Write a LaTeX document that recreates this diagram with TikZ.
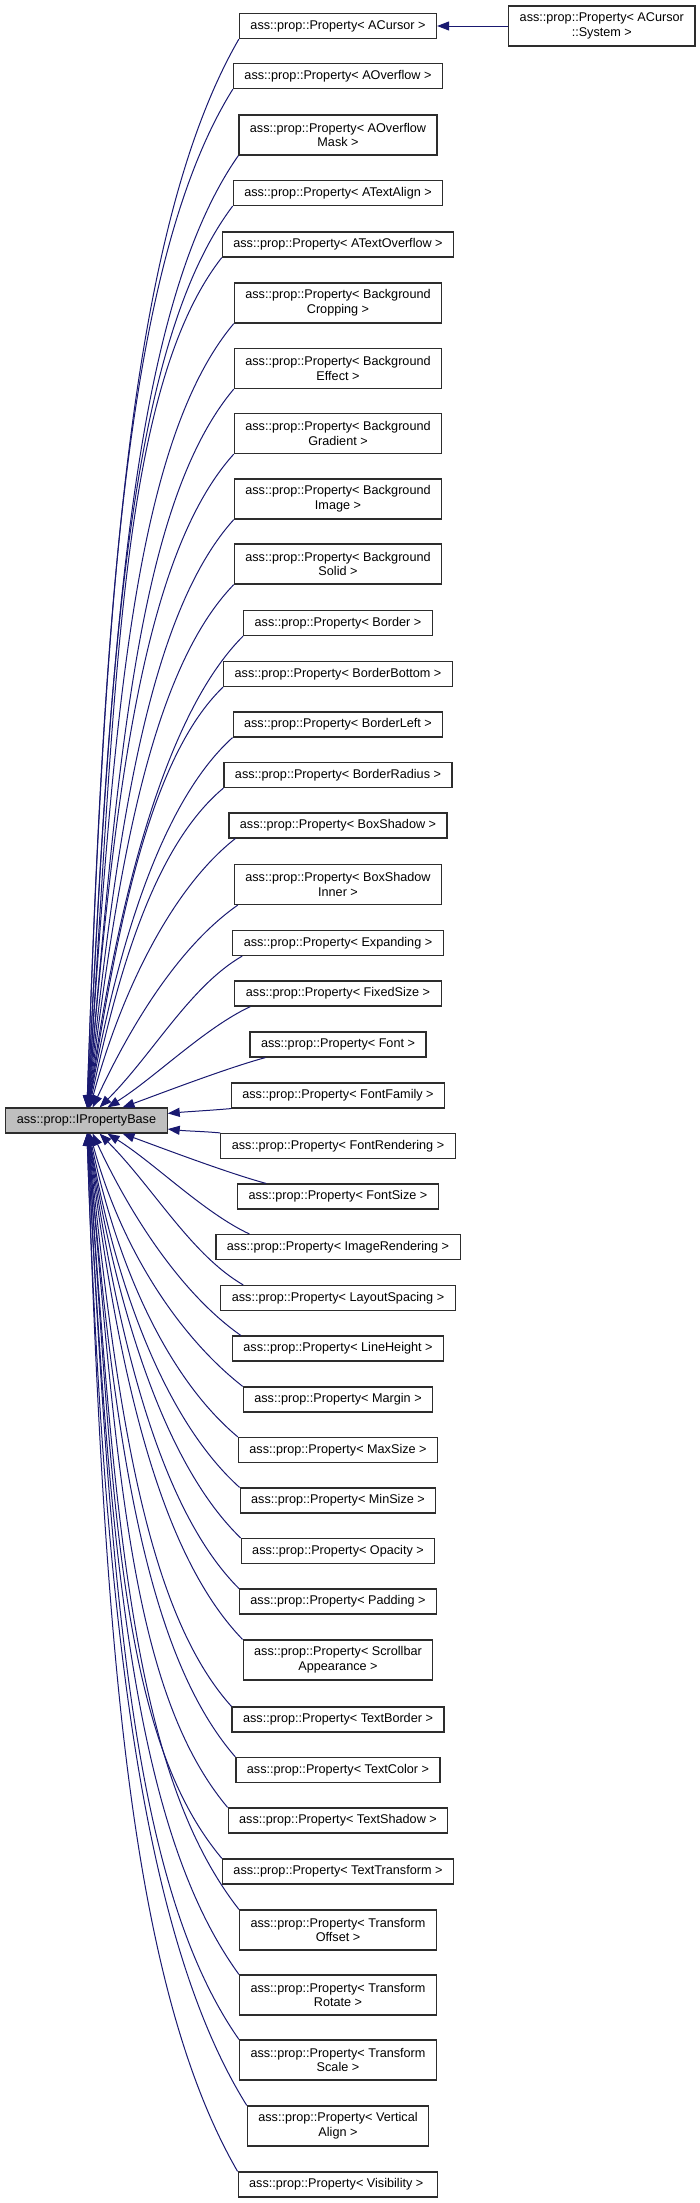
\documentclass[tikz,border=0pt]{standalone}
\usepackage{fontspec}
\setmainfont{Liberation Sans}
\usepackage{tikz}
\usetikzlibrary{arrows.meta, positioning}
\definecolor{edgeBlue}{RGB}{25,25,112}
\definecolor{baseGray}{RGB}{191,191,191}
\definecolor{boxLine}{RGB}{45,45,45}
\tikzset{
    propbox/.style={
        rectangle,
        draw=boxLine,
        line width=1.2pt,
        fill=white,
        align=center,
        inner xsep=11pt,
        inner ysep=2pt,
        minimum height=25pt,
        font=\fontsize{12.65}{14.7}\selectfont
    },
    basebox/.style={propbox, fill=baseGray},
    inherit/.style={-{Triangle[length=12pt, width=9pt]}, line width=1pt, draw=edgeBlue}
}

\begin{document}
\begin{tikzpicture}[x=1pt,y=1pt]
    \useasboundingbox (0,0) rectangle (700,-2203);

    \node[basebox] (base) at (86.5,-1120.5) {ass::prop::IPropertyBase};

    % derived property classes, one column
    \foreach \nm/\y/\h/\txt in {
        cursor/26/25pt/{ass::prop::Property< ACursor >},
        overflow/76/25pt/{ass::prop::Property< AOverflow >},
        overflowmask/135/40pt/{ass::prop::Property< AOverflow\\Mask >},
        textalign/193/25pt/{ass::prop::Property< ATextAlign >},
        textoverflow/244.5/25pt/{ass::prop::Property< ATextOverflow >},
        bgcrop/303/40pt/{ass::prop::Property< Background\\Cropping >},
        bgeffect/368.5/40pt/{ass::prop::Property< Background\\Effect >},
        bggrad/433.5/40pt/{ass::prop::Property< Background\\Gradient >},
        bgimage/499/40pt/{ass::prop::Property< Background\\Image >},
        bgsolid/564/40pt/{ass::prop::Property< Background\\Solid >},
        border/623/25pt/{ass::prop::Property< Border >},
        borderbottom/674/25pt/{ass::prop::Property< BorderBottom >},
        borderleft/724.5/25pt/{ass::prop::Property< BorderLeft >},
        borderradius/775/25pt/{ass::prop::Property< BorderRadius >},
        boxshadow/825.5/25pt/{ass::prop::Property< BoxShadow >},
        boxshadowin/884.5/40pt/{ass::prop::Property< BoxShadow\\Inner >},
        expanding/943/25pt/{ass::prop::Property< Expanding >},
        fixedsize/993.5/25pt/{ass::prop::Property< FixedSize >},
        font/1044.5/25pt/{ass::prop::Property< Font >},
        fontfamily/1095.5/25pt/{ass::prop::Property< FontFamily >},
        fontrender/1146/25pt/{ass::prop::Property< FontRendering >},
        fontsize/1196.5/25pt/{ass::prop::Property< FontSize >},
        imagerender/1247/25pt/{ass::prop::Property< ImageRendering >},
        layoutspacing/1298/25pt/{ass::prop::Property< LayoutSpacing >},
        lineheight/1348.5/25pt/{ass::prop::Property< LineHeight >},
        margin/1399.5/25pt/{ass::prop::Property< Margin >},
        maxsize/1450/25pt/{ass::prop::Property< MaxSize >},
        minsize/1500.5/25pt/{ass::prop::Property< MinSize >},
        opacity/1551/25pt/{ass::prop::Property< Opacity >},
        padding/1601.5/25pt/{ass::prop::Property< Padding >},
        scrollbar/1660/40pt/{ass::prop::Property< Scrollbar\\Appearance >},
        textborder/1719.5/25pt/{ass::prop::Property< TextBorder >},
        textcolor/1770/25pt/{ass::prop::Property< TextColor >},
        textshadow/1820.5/25pt/{ass::prop::Property< TextShadow >},
        texttransform/1871.5/25pt/{ass::prop::Property< TextTransform >},
        troffset/1930/40pt/{ass::prop::Property< Transform\\Offset >},
        trrotate/1995/40pt/{ass::prop::Property< Transform\\Rotate >},
        trscale/2060/40pt/{ass::prop::Property< Transform\\Scale >},
        valign/2126/40pt/{ass::prop::Property< Vertical\\Align >},
        visibility/2184.5/25pt/{ass::prop::Property< Visibility >}
    } {
        \node[propbox, minimum height=\h] (\nm) at (338,-\y) {\txt};
    }

    \node[propbox, minimum height=40pt, right=71pt of cursor] (cursorsys) {ass::prop::Property< ACursor\\::System >};
    \draw[inherit] (cursorsys) -- (cursor);

    % edges from classes above the base
    \foreach \nm/\sh/\oa/\od/\ia/\id in {
        cursor/0/240/220/88/500, overflow/0/238/205/88/480, overflowmask/0/235/190/87/450,
        textalign/0/233/180/87/420, textoverflow/0/232/170/86/400, bgcrop/0/230/160/86/370,
        bgeffect/0/230/150/85/340, bggrad/0/228/140/85/300, bgimage/0/228/130/84/270,
        bgsolid/0/226/120/83/240, border/0/225/110/82/210, borderbottom/0/224/100/81/190,
        borderleft/0/222/95/80/165, borderradius/0/220/90/78/140, boxshadow/7/218/80/75/120,
        boxshadowin/4/215/70/65/95, expanding/10/210/60/45/75, fixedsize/16/205/50/32/55,
        font/16/195/40/20/35, fontfamily/0/185/20/5/20
    }
        \draw[inherit] ([xshift=\sh pt]\nm.south west) .. controls +(\oa:\od pt) and +(\ia:\id pt) .. (base.\ia);

    % edges from classes below the base
    \foreach \nm/\sh/\oa/\od/\ia/\id in {
        fontrender/0/175/20/354/20, fontsize/29/165/40/340/35, imagerender/34/155/50/328/55,
        layoutspacing/23/150/60/315/75, lineheight/9/145/70/295/95, margin/0/142/80/285/120,
        maxsize/0/140/90/282/140, minsize/0/138/95/280/165, opacity/0/136/100/279/190,
        padding/0/135/110/278/210, scrollbar/0/134/120/277/240, textborder/0/132/130/276/270,
        textcolor/0/131/140/275/300, textshadow/0/130/150/275/340, texttransform/0/130/160/274/370,
        troffset/0/128/170/274/400, trrotate/0/126/180/273/420, trscale/0/125/190/273/450,
        valign/0/122/200/272/480, visibility/0/120/220/272/500
    }
        \draw[inherit] ([xshift=\sh pt]\nm.north west) .. controls +(\oa:\od pt) and +(\ia:\id pt) .. (base.\ia);
\end{tikzpicture}
\end{document}
